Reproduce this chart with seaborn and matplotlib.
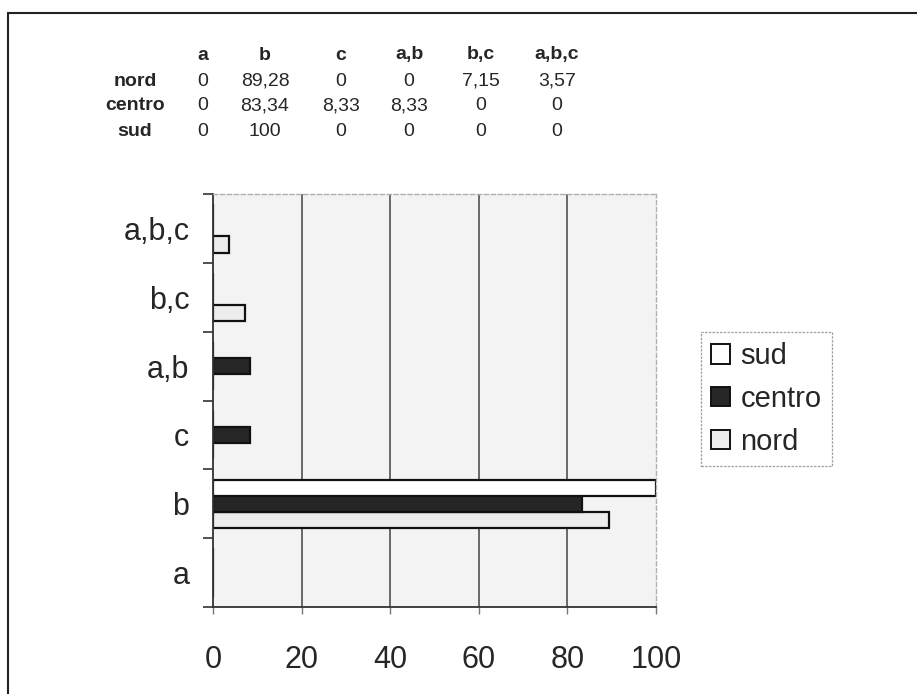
import matplotlib
matplotlib.use("Agg")
import matplotlib.pyplot as plt
from matplotlib.lines import Line2D
from matplotlib.patches import Patch
import seaborn as sns
import pandas as pd

# Response combinations and share (%) per area
categorie = ["a", "b", "c", "a,b", "b,c", "a,b,c"]
nord = [0, 89.28, 0, 0, 7.15, 3.57]
centro = [0, 83.34, 8.33, 8.33, 0, 0]
sud = [0, 100, 0, 0, 0, 0]
zone = ["nord", "centro", "sud"]
x_ticks = [0, 20, 40, 60, 80, 100]

colori = {"nord": "#ededed", "centro": "#262626", "sud": "#ffffff"}

serie = {"nord": nord, "centro": centro, "sud": sud}
df = pd.DataFrame(
    [(c, z, v) for z in zone for c, v in zip(categorie, serie[z])],
    columns=["categoria", "zona", "valore"],
)

sns.set_style("white")
plt.rcParams["font.family"] = ["Liberation Sans", "DejaVu Sans"]

fig = plt.figure(figsize=(9.17, 6.94), dpi=100)
ax = fig.add_axes([213 / 917, 1 - 607 / 694, (656 - 213) / 917, (607 - 194) / 694])

sns.barplot(
    data=df, y="categoria", x="valore", hue="zona",
    order=categorie, hue_order=zone, palette=colori,
    orient="h", width=0.7, edgecolor="#111111", linewidth=1.6,
    legend=False, ax=ax,
)

# category "a" at the bottom
ax.set_ylim(-0.5, len(categorie) - 0.5)
ax.set_xlim(0, 100)
ax.set_facecolor("#f3f3f3")

# vertical gridlines
for v in x_ticks[1:-1]:
    ax.axvline(v, color="#444444", lw=1.1, zorder=0.5)

# spines
for s in ["left", "bottom"]:
    ax.spines[s].set_color("#333333")
    ax.spines[s].set_linewidth(1.3)
for s in ["top", "right"]:
    ax.spines[s].set_color("#b0b0b0")
    ax.spines[s].set_linewidth(1.0)
    ax.spines[s].set_linestyle((0, (3, 2)))

# x axis ticks
ax.set_xticks(x_ticks)
ax.set_xticklabels([str(t) for t in x_ticks], fontsize=22)
ax.tick_params(axis="x", direction="out", length=5, width=1, color="#777777",
               pad=22, bottom=True)

# y axis: ticks at category boundaries, labels at centres
ax.set_yticks([i - 0.5 for i in range(len(categorie) + 1)])
ax.set_yticklabels([])
ax.tick_params(axis="y", which="major", direction="out", length=7, width=1.2,
               color="#333333", left=True)
ax.set_yticks(range(len(categorie)), minor=True)
ax.set_yticklabels(categorie, minor=True, fontsize=22)
ax.tick_params(axis="y", which="minor", length=0, pad=17)
ax.set_xlabel("")
ax.set_ylabel("")

# legend
handles = [Patch(facecolor=colori[z], edgecolor="#111111", linewidth=1.4, label=z)
           for z in ["sud", "centro", "nord"]]
leg = fig.legend(handles=handles, loc="center left",
                 bbox_to_anchor=(701 / 917, 1 - 399 / 694),
                 fontsize=21, frameon=True, handlelength=0.65, handleheight=0.65,
                 handletextpad=0.35, labelspacing=0.5, borderpad=0.35,
                 borderaxespad=0, fancybox=False)
leg.get_frame().set_edgecolor("#888888")
leg.get_frame().set_linestyle((0, (2, 1)))
leg.get_frame().set_linewidth(0.9)

# data table above the chart
col_x = [203, 265, 341, 409, 481, 557]
row_y = [81, 106, 131]
header_y = 55
label_x = 135
for cx, c in zip(col_x, categorie):
    fig.text(cx / 917, 1 - header_y / 694, c, ha="center", va="center",
             fontsize=14, fontweight="bold")
for ry, z in zip(row_y, zone):
    fig.text(label_x / 917, 1 - ry / 694, z, ha="center", va="center",
             fontsize=14, fontweight="bold")
    for cx, v in zip(col_x, serie[z]):
        fig.text(cx / 917, 1 - ry / 694, f"{v:g}".replace(".", ","),
                 ha="center", va="center", fontsize=14)

# outer frame
fig.add_artist(Line2D([8 / 917, 8 / 917], [0, 1 - 13 / 694],
                      transform=fig.transFigure, color="#222222", lw=1.5))
fig.add_artist(Line2D([8 / 917, 1], [1 - 13 / 694, 1 - 13 / 694],
                      transform=fig.transFigure, color="#222222", lw=1.5))

fig.savefig("out.png", dpi=100)
